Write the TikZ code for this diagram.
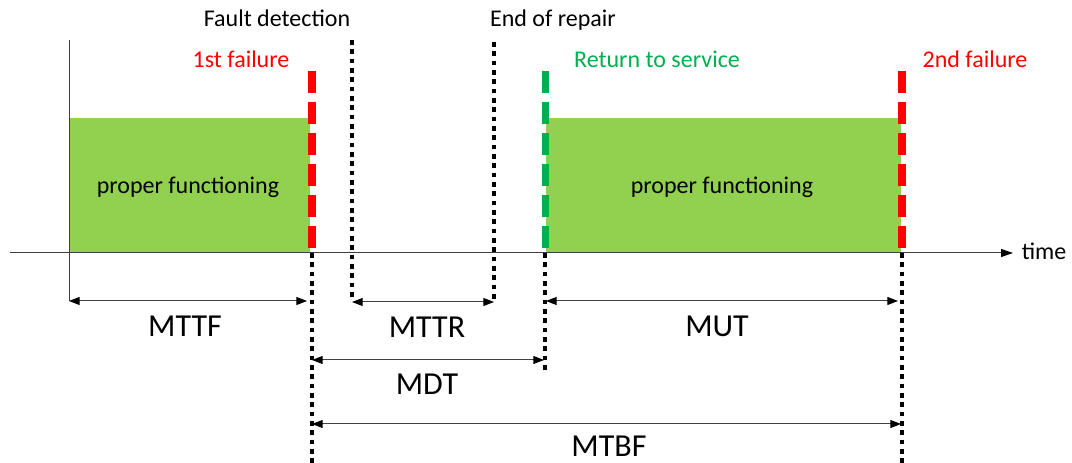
\documentclass[tikz,border=0pt]{standalone}
\usepackage{fontspec}
\setmainfont{Carlito}
\usetikzlibrary{arrows.meta}
\definecolor{boxgreen}{HTML}{92D050}
\definecolor{evred}{HTML}{FF0000}
\definecolor{evgreen}{HTML}{00B050}
\definecolor{axisgray}{HTML}{404040}
\tikzset{
  upbox/.style={fill=boxgreen, draw=none},
  failline/.style={draw=evred, line width=6pt, dash pattern=on 16.5pt off 6.75pt},
  okline/.style={draw=evgreen, line width=5.25pt, dash pattern=on 16.5pt off 6.75pt},
  dotline/.style={draw=black, line width=3.6pt, dash pattern=on 3.4pt off 3.6pt},
  axisline/.style={draw=axisgray, line width=0.75pt},
  dimarrow/.style={draw=axisgray, line width=0.75pt, {Triangle[length=8pt,width=6pt,fill=black,color=black]}-{Triangle[length=8pt,width=6pt,fill=black,color=black]}},
  smalltxt/.style={font=\fontsize{18}{20}\selectfont, anchor=base, inner sep=0pt},
  bigtxt/.style={font=\fontsize{24}{26}\selectfont, anchor=base, inner sep=0pt}
}
\begin{document}
\begin{tikzpicture}[x=0.75pt, y=-0.75pt]
\useasboundingbox (0,0) rectangle (1072,463);
% green boxes
\fill[upbox] (69,118) rectangle (310,253);
\fill[upbox] (546,118) rectangle (901,253);
% axes
\coordinate (ax0) at (10,253);
\coordinate (ax1) at (1013,253);
\draw[axisline, -{Triangle[length=9pt,width=6pt,color=black]}] (ax0) -- (ax1);
\coordinate (vtop) at (69,40);
\coordinate (vbot) at (69,301);
\draw[axisline] (vtop) -- (vbot);
% events
\coordinate (f1top) at (312,71);
\coordinate (f1ax) at (312,253);
\coordinate (f1bot) at (312,463);
\coordinate (fdtop) at (352,40);
\coordinate (fdbot) at (352,301);
\coordinate (ertop) at (494,42);
\coordinate (erbot) at (494,301);
\coordinate (rstop) at (545,71);
\coordinate (rsax) at (545,253);
\coordinate (rsbot) at (545,370);
\coordinate (f2top) at (902,71);
\coordinate (f2ax) at (902,253);
\coordinate (f2bot) at (902,463);
\draw[failline] (f1top) -- (f1ax);
\draw[failline] (f2top) -- (f2ax);
\draw[okline] (rstop) -- (rsax);
\draw[dotline] (f1ax) -- (f1bot);
\draw[dotline] (f2ax) -- (f2bot);
\draw[dotline] (rsax) -- (rsbot);
\draw[dotline] (fdtop) -- (fdbot);
\draw[dotline] (ertop) -- (erbot);
% dimension arrows
\coordinate (mttfL) at (69,301);
\coordinate (mttfR) at (307,301);
\coordinate (mttrL) at (352,302);
\coordinate (mttrR) at (494,302);
\coordinate (mutL) at (546,301);
\coordinate (mutR) at (898,301);
\coordinate (mdtL) at (312,360);
\coordinate (mdtR) at (544,360);
\coordinate (mtbfL) at (312,424);
\coordinate (mtbfR) at (901,424);
\draw[dimarrow] (mttfL) -- (mttfR);
\draw[dimarrow] (mttrL) -- (mttrR);
\draw[dimarrow] (mutL) -- (mutR);
\draw[dimarrow] (mdtL) -- (mdtR);
\draw[dimarrow] (mtbfL) -- (mtbfR);
% labels
\node[smalltxt] (lfd) at (277,27) {Fault detection};
\node[smalltxt] (ler) at (553,27) {End of repair};
\node[smalltxt, text=evred] (lf1) at (241,68) {1st failure};
\node[smalltxt, text=evgreen] (lrs) at (657,68) {Return to service};
\node[smalltxt, text=evred] (lf2) at (975,68) {2nd failure};
\node[smalltxt] (lpf1) at (188,194) {proper functioning};
\node[smalltxt] (lpf2) at (722,194) {proper functioning};
\node[smalltxt] (ltime) at (1044,260) {time};
\node[bigtxt] (lmttf) at (185,337) {MTTF};
\node[bigtxt] (lmttr) at (427,338) {MTTR};
\node[bigtxt] (lmut) at (717,337) {MUT};
\node[bigtxt] (lmdt) at (427,395) {MDT};
\node[bigtxt] (lmtbf) at (609,456) {MTBF};
\end{tikzpicture}
\end{document}
